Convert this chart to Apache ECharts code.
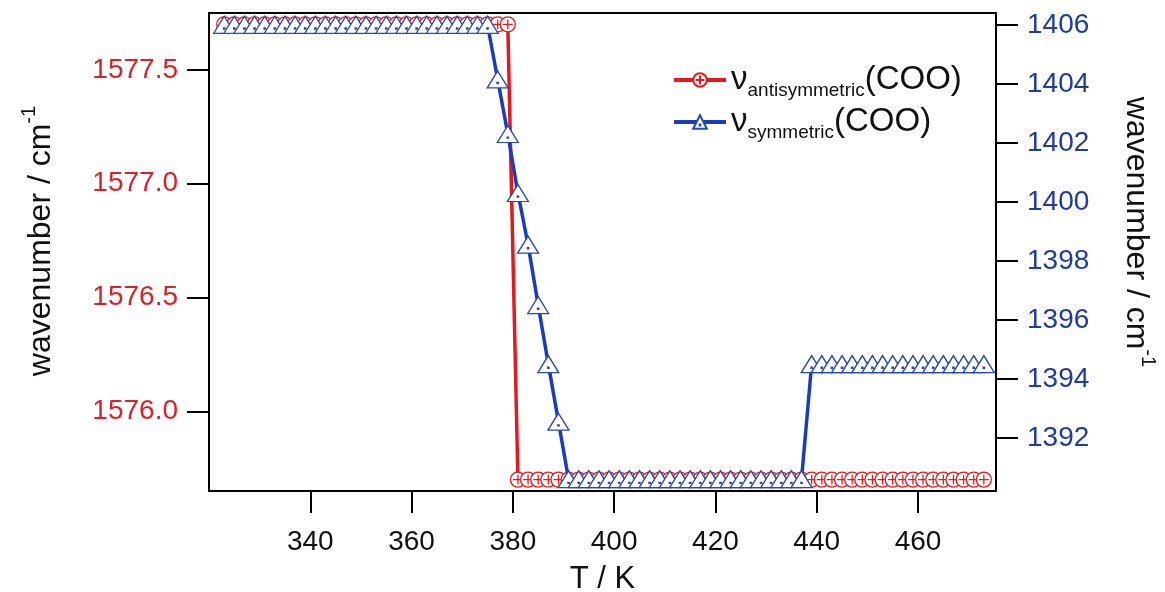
<!DOCTYPE html>
<html>
<head>
<meta charset="utf-8">
<script src="https://cdn.jsdelivr.net/npm/echarts@6/dist/echarts.min.js"></script>
<style>
  html, body { margin: 0; padding: 0; background: #fff; }
  #chart { width: 1165px; height: 592px; }
</style>
</head>
<body>
<div id="chart"></div>
<script>
// Temperature (K)
const temps = [
  323, 325, 327, 329, 331, 333, 335, 337, 339, 341, 343, 345, 347, 349, 351, 353,
  355, 357, 359, 361, 363, 365, 367, 369, 371, 373, 375, 377, 379, 381, 383, 385,
  387, 389, 391, 393, 395, 397, 399, 401, 403, 405, 407, 409, 411, 413, 415, 417,
  419, 421, 423, 425, 427, 429, 431, 433, 435, 437, 439, 441, 443, 445, 447, 449,
  451, 453, 455, 457, 459, 461, 463, 465, 467, 469, 471, 473
];

// nu_antisymmetric(COO), left axis (cm^-1)
const antisym = [
  1577.7, 1577.7, 1577.7, 1577.7, 1577.7, 1577.7, 1577.7, 1577.7, 1577.7, 1577.7,
  1577.7, 1577.7, 1577.7, 1577.7, 1577.7, 1577.7, 1577.7, 1577.7, 1577.7, 1577.7,
  1577.7, 1577.7, 1577.7, 1577.7, 1577.7, 1577.7, 1577.7, 1577.7, 1577.7,
  1575.7, 1575.7, 1575.7, 1575.7, 1575.7, 1575.7, 1575.7, 1575.7, 1575.7, 1575.7,
  1575.7, 1575.7, 1575.7, 1575.7, 1575.7, 1575.7, 1575.7, 1575.7, 1575.7, 1575.7,
  1575.7, 1575.7, 1575.7, 1575.7, 1575.7, 1575.7, 1575.7, 1575.7, 1575.7, 1575.7,
  1575.7, 1575.7, 1575.7, 1575.7, 1575.7, 1575.7, 1575.7, 1575.7, 1575.7, 1575.7,
  1575.7, 1575.7, 1575.7, 1575.7, 1575.7, 1575.7, 1575.7
];

// nu_symmetric(COO), right axis (cm^-1)
const sym = [
  1406.0, 1406.0, 1406.0, 1406.0, 1406.0, 1406.0, 1406.0, 1406.0, 1406.0, 1406.0,
  1406.0, 1406.0, 1406.0, 1406.0, 1406.0, 1406.0, 1406.0, 1406.0, 1406.0, 1406.0,
  1406.0, 1406.0, 1406.0, 1406.0, 1406.0, 1406.0, 1406.0,
  1404.15, 1402.3, 1400.3, 1398.55, 1396.5, 1394.5, 1392.55,
  1390.6, 1390.6, 1390.6, 1390.6, 1390.6, 1390.6, 1390.6, 1390.6, 1390.6, 1390.6,
  1390.6, 1390.6, 1390.6, 1390.6, 1390.6, 1390.6, 1390.6, 1390.6, 1390.6, 1390.6,
  1390.6, 1390.6, 1390.6, 1390.6,
  1394.5, 1394.5, 1394.5, 1394.5, 1394.5, 1394.5, 1394.5, 1394.5, 1394.5, 1394.5,
  1394.5, 1394.5, 1394.5, 1394.5, 1394.5, 1394.5, 1394.5, 1394.5
];

// Tick labels
const xTicks = [340, 360, 380, 400, 420, 440, 460];
const leftTicks = [1576.0, 1576.5, 1577.0, 1577.5];
const rightTicks = [1392, 1394, 1396, 1398, 1400, 1402, 1404, 1406];

const RED = '#e5191d';
const BLUE = '#1a3cbc';
const RED_TEXT = '#d8222a';
const BLUE_TEXT = '#1f3c9e';
const INK = '#111';
const FONT = 'Liberation Sans, Arial, Helvetica, sans-serif';

// circle with a plus inside, and a triangle with a small centre dot
const circlePlus = 'path://M0,-10A10,10,0,1,1,0,10A10,10,0,1,1,0,-10ZM-6.5,0L6.5,0M0,-6.5L0,6.5';
const triDot = 'path://M0,-10L11.5,10L-11.5,10ZM-0.7,3.6L0.7,3.6L0.7,5L-0.7,5Z';

const pairs = (ys) => temps.map((t, i) => [t, ys[i]]);

const axisLineStyle = { color: '#000', width: 2 };

// rotated axis title with a superscript exponent
const titleStyle = (pad) => ({
  fontFamily: FONT, fontSize: 32, color: INK,
  padding: pad,
  rich: {
    a: { fontFamily: FONT, fontSize: 32, lineHeight: 44, color: INK },
    s: { fontFamily: FONT, fontSize: 20, lineHeight: 20, verticalAlign: 'top', color: INK }
  }
});

const chart = echarts.init(document.getElementById('chart'), null, { renderer: 'canvas' });

chart.setOption({
  animation: false,
  backgroundColor: '#fff',
  grid: {
    left: 209, right: 169, top: 13, bottom: 101,
    outerBoundsMode: 'none',
    containLabel: false,
    show: true, borderColor: '#000', borderWidth: 2, backgroundColor: 'transparent'
  },
  legend: {
    orient: 'vertical',
    left: 667,
    top: 55,
    itemWidth: 52,
    itemHeight: 17,
    itemGap: 2,
    data: [
      { name: 'antisymmetric', lineStyle: { width: 4 } },
      { name: 'symmetric', lineStyle: { width: 4 } }
    ],
    formatter: (name) => '{nu|ν}{sub|' + name + '}{t|(COO)}',
    textStyle: {
      fontFamily: FONT,
      color: INK,
      lineHeight: 40,
      rich: {
        nu: { fontSize: 33, lineHeight: 40, fontFamily: FONT, color: INK },
        sub: { fontSize: 19, lineHeight: 16, verticalAlign: 'bottom', fontFamily: FONT, color: INK },
        t: { fontSize: 33, lineHeight: 40, fontFamily: FONT, color: INK }
      }
    }
  },
  xAxis: {
    type: 'value',
    min: 320,
    max: 475.4,
    name: 'T / K',
    nameLocation: 'middle',
    nameGap: 73,
    nameTextStyle: { fontFamily: FONT, fontSize: 31, color: INK },
    axisLine: { show: true, lineStyle: axisLineStyle },
    axisTick: { show: true, length: 22, lineStyle: axisLineStyle, customValues: xTicks },
    axisLabel: {
      customValues: xTicks, margin: 37,
      fontFamily: FONT, fontSize: 28, color: INK
    },
    splitLine: { show: false }
  },
  yAxis: [
    {
      type: 'value',
      position: 'left',
      min: 1575.65,
      max: 1577.75,
      name: '{a|wavenumber / cm}{s|-1}',
      nameLocation: 'middle',
      nameRotate: 90,
      nameGap: 146,
      nameTextStyle: titleStyle([0, 0, 0, 22]),
      axisLine: { show: true, lineStyle: axisLineStyle },
      axisTick: { show: true, length: 22, lineStyle: axisLineStyle, customValues: leftTicks },
      axisLabel: {
        customValues: leftTicks, margin: 31,
        formatter: (v) => v.toFixed(1),
        fontFamily: FONT, fontSize: 28, color: RED_TEXT
      },
      splitLine: { show: false }
    },
    {
      type: 'value',
      position: 'right',
      min: 1390.2,
      max: 1406.4,
      name: '{a|wavenumber / cm}{s|-1}',
      nameLocation: 'middle',
      nameRotate: -90,
      nameGap: 118,
      nameTextStyle: titleStyle([0, 40, 0, 0]),
      axisLine: { show: true, lineStyle: axisLineStyle },
      axisTick: { show: true, length: 22, lineStyle: axisLineStyle, customValues: rightTicks },
      axisLabel: {
        customValues: rightTicks, margin: 31,
        formatter: (v) => String(v),
        fontFamily: FONT, fontSize: 28, color: BLUE_TEXT
      },
      splitLine: { show: false }
    }
  ],
  series: [
    {
      name: 'antisymmetric',
      type: 'line',
      yAxisIndex: 0,
      data: pairs(antisym),
      symbol: circlePlus,
      symbolSize: 15,
      showAllSymbol: true,
      color: RED,
      lineStyle: { color: RED, width: 3.5 },
      itemStyle: { color: '#fff', borderColor: RED, borderWidth: 1.3 },
      z: 2
    },
    {
      name: 'symmetric',
      type: 'line',
      yAxisIndex: 1,
      data: pairs(sym),
      symbol: triDot,
      symbolSize: [21, 17],
      showAllSymbol: true,
      color: BLUE,
      lineStyle: { color: BLUE, width: 3.5 },
      itemStyle: { color: '#fff', borderColor: '#2b4aa8', borderWidth: 1.3 },
      z: 3
    }
  ]
});
</script>
</body>
</html>
